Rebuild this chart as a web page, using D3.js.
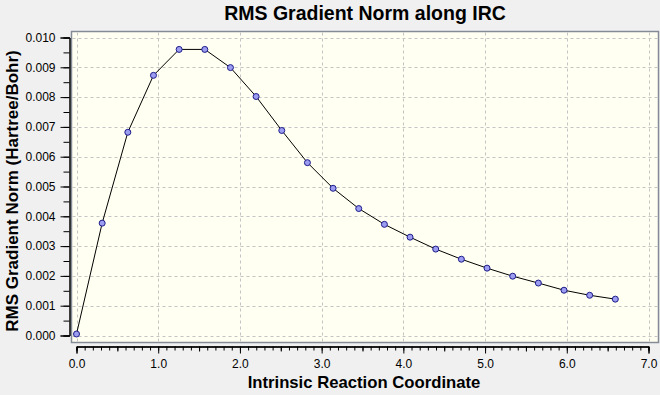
<!DOCTYPE html>
<html>
<head>
<meta charset="utf-8">
<script src="https://cdn.jsdelivr.net/npm/d3@7"></script>
<style>
body { margin: 0; background: #f0f0f0; }
svg { display: block; font-family: "Liberation Sans", Arial, sans-serif; }
.grid line { stroke: #c4c4c4; stroke-dasharray: 3,3; }
</style>
</head>
<body>
<div id="chart"></div>
<script>
var title = "RMS Gradient Norm along IRC",
    xLabel = "Intrinsic Reaction Coordinate",
    yLabel = "RMS Gradient Norm (Hartree/Bohr)";

// IRC points
var ircCoord = [0.000, 0.314, 0.628, 0.942, 1.256, 1.570, 1.884, 2.198, 2.512, 2.826, 3.140,
		3.454, 3.768, 4.082, 4.396, 4.710, 5.024, 5.338, 5.652, 5.966, 6.280, 6.594];
var rmsGrad = [0.00005, 0.00377, 0.00682, 0.00873, 0.00960, 0.00960, 0.00899, 0.00802, 0.00688, 0.00580, 0.00494,
	       0.00426, 0.00373, 0.00330, 0.00290, 0.00256, 0.00226, 0.00199, 0.00176, 0.00152, 0.00135, 0.00122];

var xTicks = [0, 1, 2, 3, 4, 5, 6, 7],
    yTicks = [0, 0.001, 0.002, 0.003, 0.004, 0.005, 0.006, 0.007, 0.008, 0.009, 0.010];

var width = 660, height = 395;
var frame = {left: 71.5, top: 31.5, right: 658.5, bottom: 342.5};

var x = d3.scaleLinear().domain([0, 7]).range([76.5, 648.5]),
    y = d3.scaleLinear().domain([0, 0.010]).range([335.5, 37.5]);

var data = ircCoord.map(function(d, i) { return {x: d, y: rmsGrad[i]}; });

var svg = d3.select("#chart").append("svg")
    .attr("width", width)
    .attr("height", height);

svg.append("rect")
    .attr("width", width)
    .attr("height", height)
    .attr("fill", "#f0f0f0");

// plot area
svg.append("rect")
    .attr("x", frame.left)
    .attr("y", frame.top)
    .attr("width", frame.right - frame.left)
    .attr("height", frame.bottom - frame.top)
    .attr("fill", "#fffff2")
    .attr("stroke", "#858b96")
    .attr("stroke-width", 1.5);

var grid = svg.append("g").attr("class", "grid");

grid.selectAll(".hg")
    .data(yTicks)
    .enter().append("line")
    .attr("x1", frame.left + 1)
    .attr("x2", frame.right - 1)
    .attr("y1", function(d) { return Math.round(y(d)) + 0.5; })
    .attr("y2", function(d) { return Math.round(y(d)) + 0.5; });

grid.selectAll(".vg")
    .data(xTicks)
    .enter().append("line")
    .attr("y1", frame.top + 1)
    .attr("y2", frame.bottom - 1)
    .attr("x1", function(d) { return Math.round(x(d)) + 0.5; })
    .attr("x2", function(d) { return Math.round(x(d)) + 0.5; });

// x axis below the frame, ticks pointing down
var xMinor = d3.range(0, 71).map(function(i) { return i / 10; });
var xAxisMinor = d3.axisBottom(x).tickValues(xMinor).tickSize(4).tickFormat("");
var xAxisHalf = d3.axisBottom(x).tickValues([0.5, 1.5, 2.5, 3.5, 4.5, 5.5, 6.5]).tickSize(5).tickFormat("");
var xAxis = d3.axisBottom(x).tickValues(xTicks).tickSize(7).tickPadding(6).tickFormat(d3.format(".1f"));

[xAxisMinor, xAxisHalf, xAxis].forEach(function(ax) {
    svg.append("g")
	.attr("class", "x axis")
	.attr("transform", "translate(0,346.5)")
	.call(ax)
	.call(function(g) {
	    g.select(".domain").attr("stroke", "#000");
	    g.selectAll("text").attr("fill", "#000").style("font-size", "12px");
	});
});

// y axis left of the frame
var yMinor = d3.range(0, 21).map(function(i) { return i * 0.0005; });
var yAxisMinor = d3.axisLeft(y).tickValues(yMinor).tickSize(6).tickFormat("");
var yAxis = d3.axisLeft(y).tickValues(yTicks).tickSize(9).tickPadding(5).tickFormat(d3.format(".3f"));

[yAxisMinor, yAxis].forEach(function(ax) {
    svg.append("g")
	.attr("class", "y axis")
	.attr("transform", "translate(69.5,0)")
	.call(ax)
	.call(function(g) {
	    g.select(".domain").attr("stroke", "#000");
	    g.selectAll("text").attr("fill", "#000").style("font-size", "12px");
	});
});

var line = d3.line()
    .x(function(d) { return x(d.x); })
    .y(function(d) { return y(d.y); });

svg.append("path")
    .datum(data)
    .attr("fill", "none")
    .attr("stroke", "#000")
    .attr("stroke-width", 1)
    .attr("d", line);

svg.selectAll(".dot")
    .data(data)
    .enter().append("circle")
    .attr("class", "dot")
    .attr("r", 3)
    .attr("cx", function(d) { return x(d.x); })
    .attr("cy", function(d) { return y(d.y); })
    .attr("fill", "#9c9cf0")
    .attr("stroke", "#1c1c8a")
    .attr("stroke-width", 1);

svg.append("text")
    .attr("x", 365)
    .attr("y", 20)
    .attr("text-anchor", "middle")
    .style("font-size", "19.5px")
    .style("font-weight", "bold")
    .text(title);

svg.append("text")
    .attr("x", 364)
    .attr("y", 388)
    .attr("text-anchor", "middle")
    .style("font-size", "16.7px")
    .style("font-weight", "bold")
    .text(xLabel);

svg.append("text")
    .attr("transform", "translate(18,191) rotate(-90)")
    .attr("text-anchor", "middle")
    .style("font-size", "17px")
    .style("font-weight", "bold")
    .text(yLabel);
</script>
</body>
</html>
